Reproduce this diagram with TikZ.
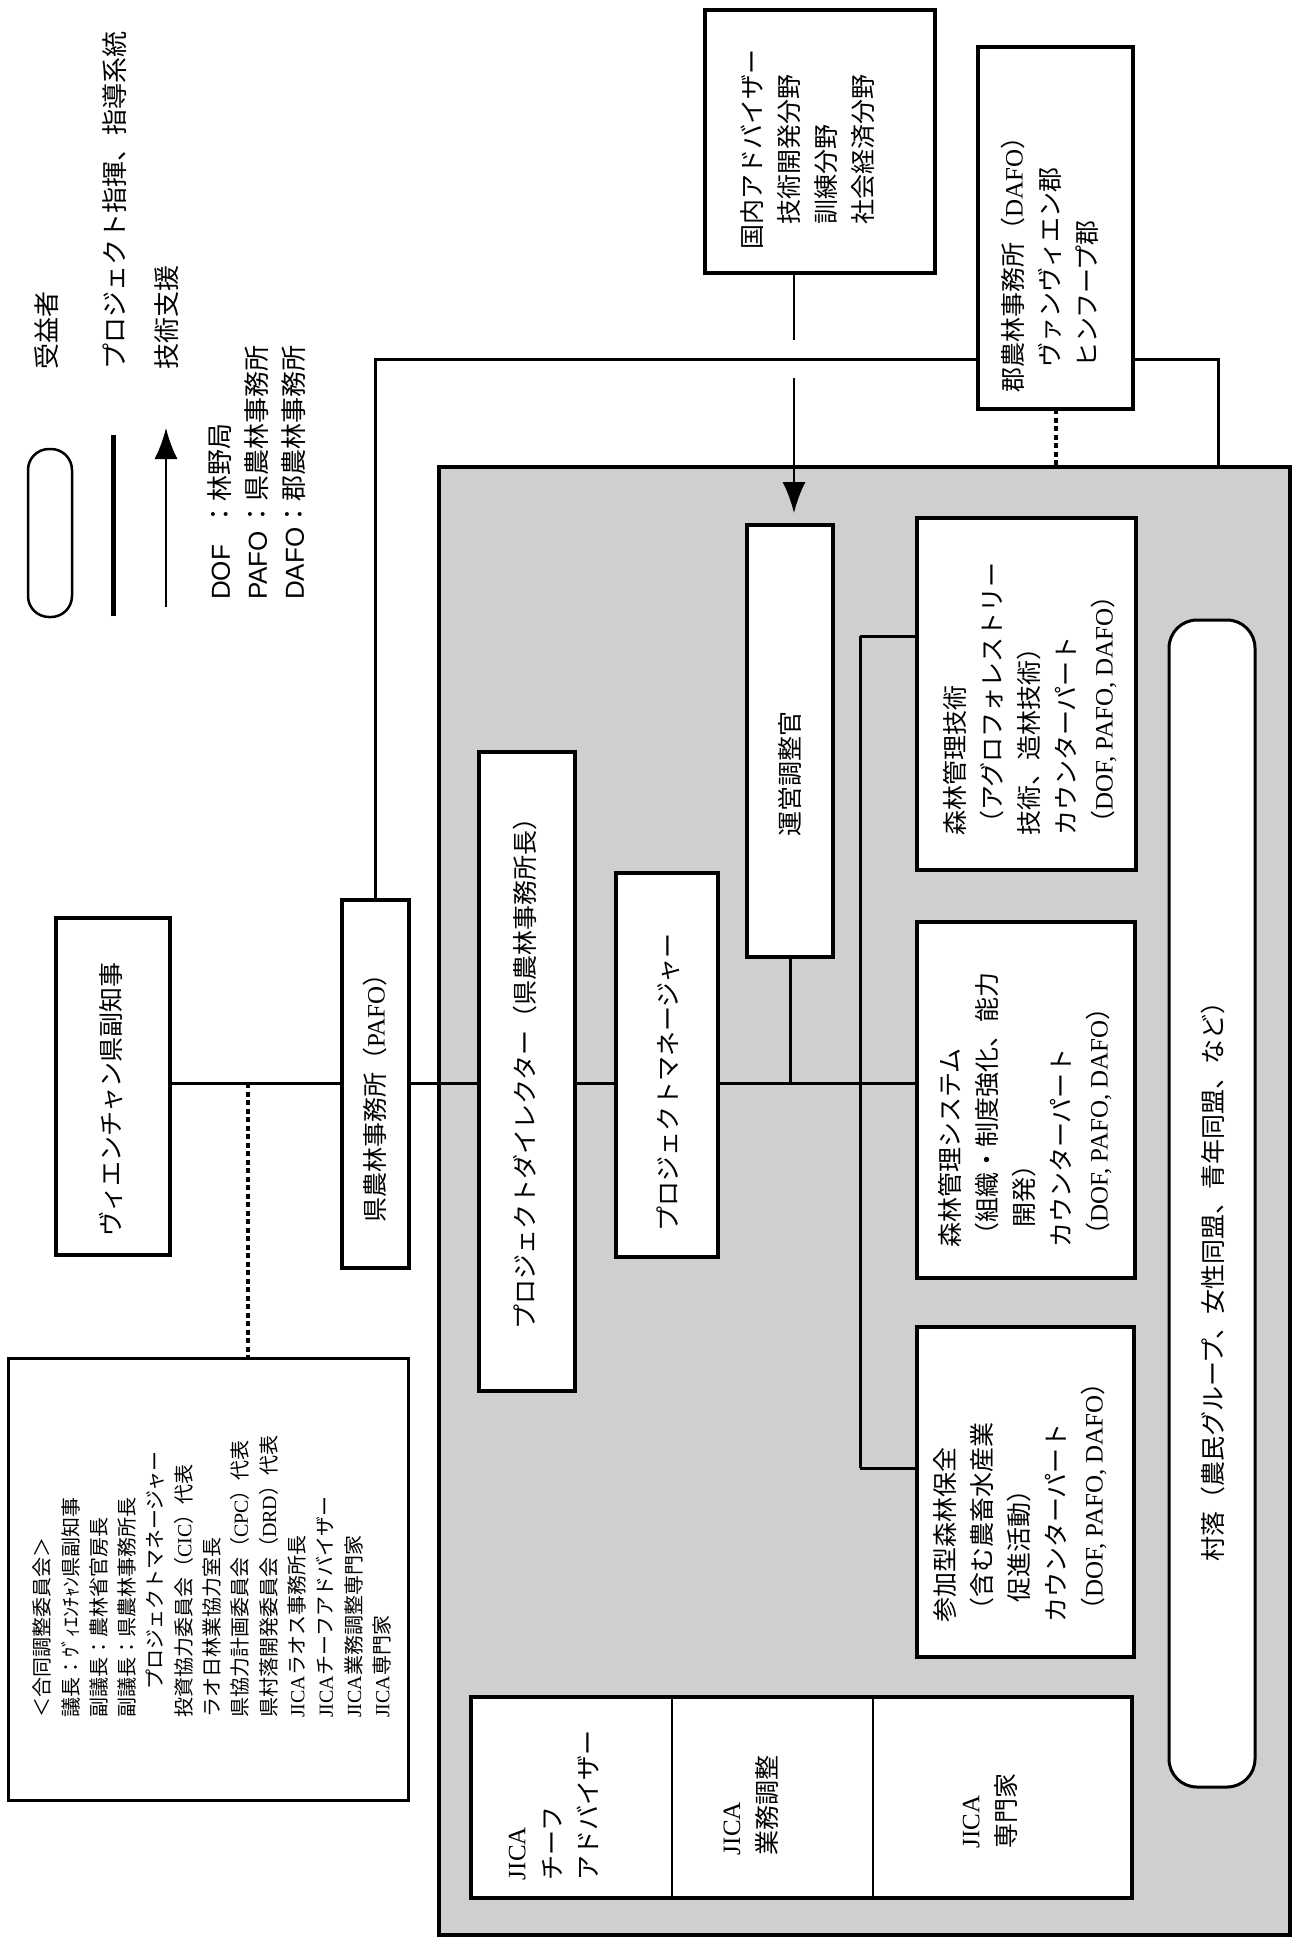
\documentclass[tikz,border=0pt]{standalone}
\usepackage{fontspec}
\setmainfont{Noto Sans CJK JP}
\newfontfamily\latinf{Liberation Serif}
\newfontfamily\latins{Liberation Sans}
\usetikzlibrary{arrows.meta}
\newcommand\rmL[1]{{\latinf #1}}
\newcommand\sfL[1]{{\latins #1}}
\tikzset{
  bx/.style={draw, line width=3.5pt, fill=white, inner sep=0pt, outer sep=0pt, rectangle},
  conn/.style={line width=3pt},
  thinconn/.style={line width=2pt},
  dotln/.style={line width=4pt, dash pattern=on 5pt off 3.5pt},
  lbl/.style={rotate=90, anchor=west, inner sep=0pt, align=left, font=\fontsize{25pt}{37pt}\selectfont},
  lgl/.style={rotate=90, anchor=west, inner sep=0pt, align=left, font=\fontsize{26pt}{37pt}\selectfont},
  lblc/.style={rotate=90, anchor=center, inner sep=0pt, align=left, font=\fontsize{25pt}{36pt}\selectfont},
  tip/.style={-{Latex[length=31pt,width=23pt]}},
}
\begin{document}
\begin{tikzpicture}[x=1pt, y=-1pt]
\useasboundingbox (0,0) rectangle (1294,1941);
\fill[white] (0,0) rectangle (1294,1941);

% project frame
\node[draw, line width=4pt, fill=black!19, inner sep=0pt, outer sep=0pt,
      minimum width=851pt, minimum height=1468pt] (proj) at (864.5,1201) {};

% boxes
\node[bx, minimum width=230pt, minimum height=263pt] (adv) at (820,141.5) {};
\node[bx, minimum width=155pt, minimum height=362pt] (dafo) at (1055.5,228) {};
\node[bx, minimum width=114pt, minimum height=337pt] (gov) at (113,1086.5) {};
\node[bx, minimum width=67pt, minimum height=368pt] (pafo) at (375.5,1084) {};
\node[bx, line width=3pt, minimum width=400pt, minimum height=442pt] (jcc) at (208,1579) {};
\node[bx, minimum width=96pt, minimum height=639pt] (pd) at (527,1071.5) {};
\node[bx, minimum width=102pt, minimum height=384pt] (pm) at (667,1065) {};
\node[bx, minimum width=86pt, minimum height=432pt] (coord) at (790,741) {};
\node[bx, minimum width=219pt, minimum height=352pt] (tech) at (1026.5,694) {};
\node[bx, minimum width=218pt, minimum height=356pt] (sys) at (1026,1100) {};
\node[bx, minimum width=217pt, minimum height=330pt] (part) at (1025.5,1492) {};
\node[bx, line width=3pt, rounded corners=28pt, minimum width=86pt, minimum height=1167pt] (vill) at (1212,1203.5) {};
\node[bx, line width=2.5pt, minimum width=201pt, minimum height=201pt] (j1) at (571.5,1797.5) {};
\node[bx, line width=2.5pt, minimum width=201pt, minimum height=201pt] (j2) at (772.5,1797.5) {};
\node[bx, line width=2.5pt, minimum width=259pt, minimum height=201pt] (j3) at (1002.5,1797.5) {};
\node[draw, line width=4pt, inner sep=0pt, outer sep=0pt, minimum width=661pt, minimum height=201pt] (jall) at (801.5,1797.5) {};

% legend symbols
\node[bx, line width=2.5pt, rounded corners=21pt, minimum width=44pt, minimum height=168pt] (lgpill) at (50,533) {};
\coordinate (lgLnS) at (113,616);
\coordinate (lgLnE) at (113,435);
\draw[line width=5pt] (lgLnS) -- (lgLnE);
\coordinate (lgArS) at (166,607);
\coordinate (lgArE) at (166,428);
\draw[thinconn, tip] (lgArS) -- (lgArE);

% helper coordinates
\coordinate (mainy) at (0,1083);
\coordinate (topline) at (0,359);
\coordinate (dafoR) at (1218,359);
\coordinate (jccTap) at (248,1083);
\coordinate (tsTop) at (794,273);
\coordinate (tsGap1) at (794,340);
\coordinate (tsGap2) at (794,378);
\coordinate (busTop) at (860,636);
\coordinate (busBot) at (860,1468);

% connectors
\draw[conn] (gov.east |- mainy) -- (pafo.west |- mainy);
\draw[conn] (pafo.east |- mainy) -- (pd.west |- mainy);
\draw[conn] (pd.east |- mainy) -- (pm.west |- mainy);
\draw[conn] (pm.east |- mainy) -- (sys.west |- mainy);
\draw[conn] (coord.south) -- (coord.south |- mainy);
\draw[conn] (busTop) -- (busBot);
\draw[conn] (busTop) -- (tech.west |- busTop);
\draw[conn] (busBot) -- (part.west |- busBot);
\draw[conn] (pafo.north) -- (pafo.north |- topline) -- (dafo.west |- topline);
\draw[conn] (dafo.east |- topline) -- (dafoR) -- (dafoR |- proj.north);
\draw[dotln] (dafo.south) -- (dafo.south |- proj.north);
\draw[dotln] (jccTap) -- (jccTap |- jcc.north);
\draw[thinconn] (tsTop) -- (tsGap1);
\draw[thinconn, tip, shorten >=12pt] (tsGap2) -- (tsGap2 |- coord.north);

% legend texts
\node[lgl] (lgt1) at (47,370) {受益者};
\node[lgl] (lgt2) at (115,370) {プロジェクト指揮、指導系統};
\node[lgl] (lgt3) at (167,370) {技術支援};
\node[lgl] (lgt4) at (257,600) {\makebox[2.8em][l]{\sfL{DOF}}：林野局\\\makebox[2.8em][l]{\sfL{PAFO}}：県農林事務所\\\makebox[2.8em][l]{\sfL{DAFO}}：郡農林事務所};

% box texts
\node[lbl] (advt) at (808,250) {国内アドバイザー\\\hspace*{1em}技術開発分野\\\hspace*{1em}訓練分野\\\hspace*{1em}社会経済分野};
\node[lbl] (dafot) at (1050,393) {郡農林事務所（\rmL{DAFO}）\\\hspace*{1em}ヴァンヴィエン郡\\\hspace*{1em}ヒンフープ郡};
\node[lbl] (govt) at (111,1237) {ヴィエンチャン県副知事};
\node[lbl] (pafot) at (375,1223) {県農林事務所（\rmL{PAFO}）};
\node[lbl, font=\fontsize{20pt}{28.3pt}\selectfont] (jcct) at (212,1718) {＜合同調整委員会＞\\
議長：ｳﾞｨｴﾝﾁｬﾝ県副知事\\
副議長：農林省官房長\\
副議長：県農林事務所長\\
\hspace*{1.4em}プロジェクトマネージャー\\
投資協力委員会（\rmL{CIC}）代表\\
ラオ日林業協力室長\\
県協力計画委員会（\rmL{CPC}）代表\\
県村落開発委員会（\rmL{DRD}）代表\\
\rmL{JICA}ラオス事務所長\\
\rmL{JICA}チーフアドバイザー\\
\rmL{JICA}業務調整専門家\\
\rmL{JICA}専門家};
\node[lbl] (pdt) at (525,1330) {プロジェクトダイレクター（県農林事務所長）};
\node[lbl] (pmt) at (668,1232) {プロジェクトマネージャー};
\node[lbl] (coordt) at (790,837) {運営調整官};
\node[lbl] (techt) at (1030,836) {森林管理技術\\（アグロフォレストリー\\技術、造林技術）\\カウンターパート\\（\rmL{DOF, PAFO, DAFO}）};
\node[lbl] (syst) at (1025,1248) {森林管理システム\\（組織・制度強化、能力\\\hspace*{0.8em}開発）\\カウンターパート\\（\rmL{DOF, PAFO, DAFO}）};
\node[lbl] (partt) at (1020,1623) {参加型森林保全\\（含む農畜水産業\\\hspace*{0.8em}促進活動）\\カウンターパート\\（\rmL{DOF, PAFO, DAFO}）};
\node[lbl] (villt) at (1213,1562) {村落（農民グループ、女性同盟、青年同盟、など）};
\node[lblc] (j1t) at (554,1805) {\rmL{JICA}\\チーフ\\アドバイザー};
\node[lblc] (j2t) at (751,1805) {\rmL{JICA}\\業務調整};
\node[lblc] (j3t) at (990,1811) {\rmL{JICA}\\専門家};
\end{tikzpicture}
\end{document}
